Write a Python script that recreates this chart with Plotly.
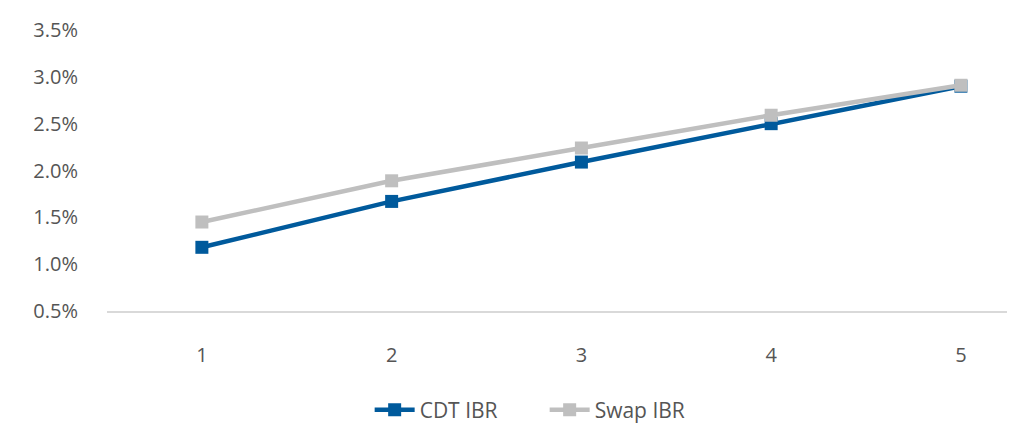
import plotly.graph_objects as go

categories = [1, 2, 3, 4, 5]
cdt_ibr = [1.18, 1.67, 2.09, 2.50, 2.90]
swap_ibr = [1.45, 1.89, 2.24, 2.59, 2.91]
y_ticks = [0.5, 1.0, 1.5, 2.0, 2.5, 3.0, 3.5]
y_tick_labels = ["0.5%", "1.0%", "1.5%", "2.0%", "2.5%", "3.0%", "3.5%"]

FONT = "'Open Sans', 'Noto Sans', sans-serif"
TXT = "#555555"

fig = go.Figure()
fig.add_trace(go.Scatter(
    x=categories, y=cdt_ibr, name="CDT IBR", mode="lines+markers",
    line=dict(color="#005A9C", width=4.5),
    marker=dict(symbol="square", size=13, color="#005A9C"),
))
fig.add_trace(go.Scatter(
    x=categories, y=swap_ibr, name="Swap IBR", mode="lines+markers",
    line=dict(color="#BFBFBF", width=4.5),
    marker=dict(symbol="square", size=13, color="#BFBFBF"),
))

fig.update_layout(
    width=1015, height=431,
    margin=dict(l=99, r=8, t=16, b=126),
    paper_bgcolor="white", plot_bgcolor="white",
    font=dict(family=FONT, size=20, color=TXT),
    showlegend=True,
    legend=dict(orientation="h", x=0.482, xanchor="center", y=-0.353, yanchor="middle",
                font=dict(size=21, color=TXT), itemwidth=40, tracegroupgap=0,
                entrywidth=120, entrywidthmode="pixels"),
    xaxis=dict(
        range=[0.5, 5.285], tickmode="array", tickvals=categories,
        ticktext=[str(c) for c in categories],
        showgrid=False, zeroline=False, showline=True, linecolor="#D9D9D9", linewidth=1.5,
        ticks="", ticklabelstandoff=25,
        tickfont=dict(size=20, color=TXT),
    ),
    yaxis=dict(
        range=[0.5, 3.5], tickmode="array", tickvals=y_ticks, ticktext=y_tick_labels,
        showgrid=False, zeroline=False, showline=False,
        ticks="", ticklabelstandoff=28,
        tickfont=dict(size=20, color=TXT),
    ),
)

fig.write_html("out.html")
